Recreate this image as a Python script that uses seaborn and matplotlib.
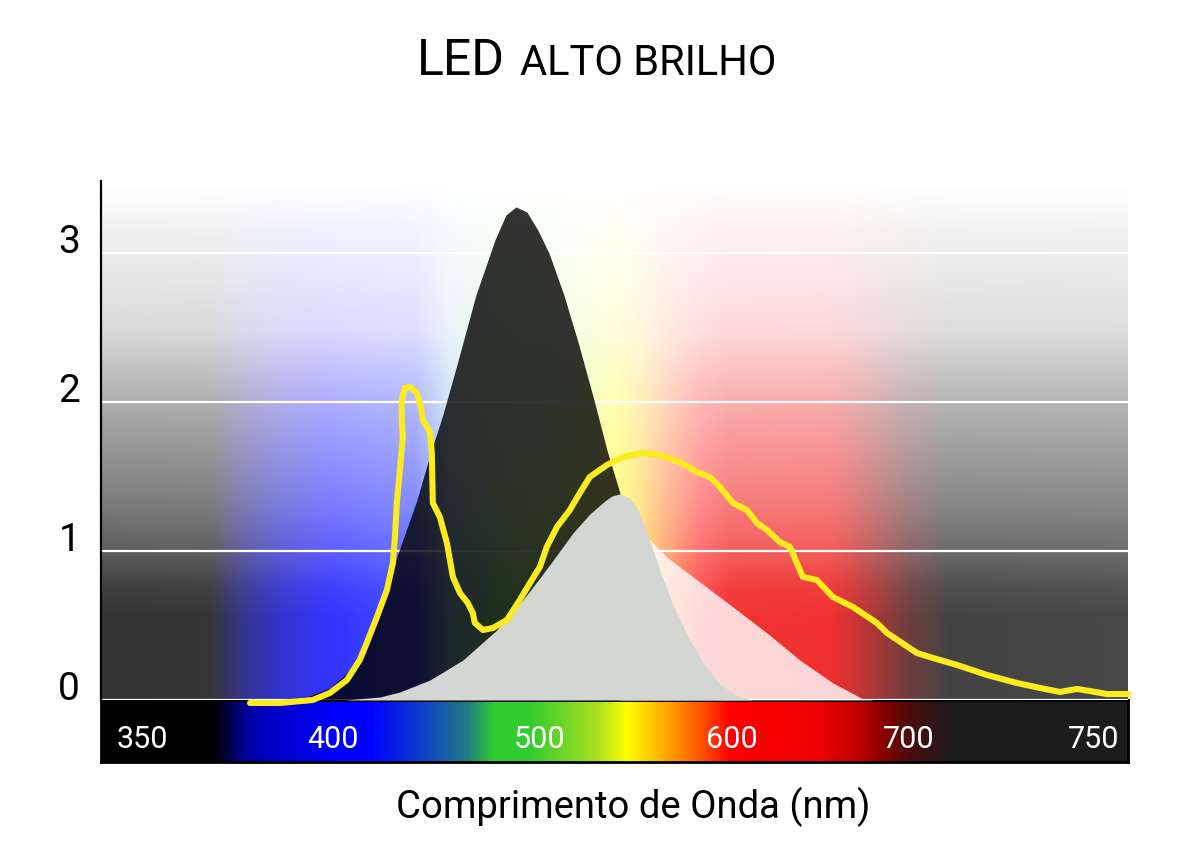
import numpy as np
import matplotlib
matplotlib.use("Agg")
import matplotlib.pyplot as plt
from matplotlib.colors import to_rgb
from matplotlib.transforms import blended_transform_factory
import seaborn as sns

# labels printed on the spectrum strip
band_labels = ["350", "400", "500", "600", "700", "750"]
band_nm = [350, 400, 500, 600, 700, 750]
# the printed wavelength scale is not linear: relative spacing of the marks
scale_nm = [330, 350, 400, 500, 600, 700, 750, 770]
scale_pos = [67, 143, 333, 540, 732, 909, 1094, 1168]

# LED spectrum (yellow line)
led_nm = [378.2, 386.1, 394.7, 399.2, 406.8, 413.0, 416.4, 421.3, 426.1, 429.0,
          430.0, 430.9, 432.4, 433.8, 433.3, 433.3, 434.8, 437.2, 440.6, 442.5,
          443.5, 446.9, 447.8, 448.3, 451.7, 455.1, 458.0, 461.4, 465.2, 467.6,
          468.6, 472.5, 477.3, 484.1, 490.3, 495.2, 500.0, 503.6, 508.9, 515.6,
          520.8, 526.0, 534.9, 543.2, 553.6, 562.5, 572.9, 581.8, 588.5, 593.8,
          600.6, 608.5, 614.1, 619.8, 627.1, 632.8, 636.7, 640.1, 648.0, 657.1,
          668.4, 681.9, 687.6, 702.2, 706.5, 713.0, 721.1, 729.2, 735.4, 740.8,
          745.4, 748.9, 753.5, 759.2]
led_val = [-0.02, -0.02, 0.0, 0.047, 0.134, 0.268, 0.383, 0.557, 0.738, 0.919,
           1.094, 1.322, 1.544, 1.765, 1.879, 2.013, 2.094, 2.101, 2.060, 1.966,
           1.879, 1.799, 1.658, 1.322, 1.228, 1.054, 0.826, 0.718, 0.651, 0.584,
           0.517, 0.470, 0.483, 0.537, 0.671, 0.785, 0.893, 1.027, 1.161, 1.275,
           1.389, 1.497, 1.577, 1.631, 1.658, 1.644, 1.597, 1.530, 1.497, 1.430,
           1.322, 1.275, 1.188, 1.141, 1.060, 1.027, 0.919, 0.826, 0.805, 0.691,
           0.624, 0.517, 0.450, 0.315, 0.282, 0.235, 0.168, 0.114, 0.081, 0.054,
           0.074, 0.060, 0.040, 0.040]

# scotopic curve (dark)
scot_nm = [387.4, 393.9, 399.2, 405.8, 411.6, 419.3, 427.5, 433.8, 440.6, 446.9,
           453.1, 459.9, 469.1, 478.3, 483.6, 488.4, 493.7, 499.0, 504.7, 512.5,
           520.3, 528.6, 534.9, 541.7, 547.9, 554.7, 566.1, 583.3, 600.6, 619.8,
           638.4, 657.1, 674.0, 680.8]
scot_val = [0, 0.027, 0.081, 0.168, 0.268, 0.523, 0.826, 1.074, 1.342, 1.644,
            1.913, 2.248, 2.718, 3.087, 3.255, 3.309, 3.275, 3.154, 3.0, 2.718,
            2.383, 1.993, 1.678, 1.389, 1.242, 1.107, 0.960, 0.792, 0.624, 0.450,
            0.268, 0.114, 0.007, 0]

# photopic curve (light)
phot_nm = [405.8, 422.7, 432.4, 446.9, 462.8, 479.2, 491.8, 500.0, 508.9, 517.2,
           526.0, 533.9, 537.5, 541.7, 546.9, 551.0, 554.7, 558.3, 562.5, 569.3,
           578.1, 585.9, 593.8, 602.8, 611.3]
phot_val = [0, 0.020, 0.054, 0.134, 0.268, 0.470, 0.671, 0.819, 0.973, 1.121,
            1.248, 1.336, 1.369, 1.383, 1.356, 1.275, 1.161, 1.027, 0.872, 0.638,
            0.403, 0.235, 0.107, 0.027, 0]

# spectrum strip colours
strip_nm = [339, 368.4, 377.6, 382.1, 401.4, 418.4, 443.5, 465.7, 478.0, 494.5,
            530.7, 545.3, 567.7, 584.9, 599.0, 649.7, 672.3, 687.6, 703.0, 711.9, 760]
strip_hex = ["#000000", "#000000", "#0000a0", "#0000c0", "#0000ff", "#0000ff",
             "#1040c8", "#208080", "#30cc30", "#30cc30", "#b0e020", "#ffff00",
             "#ffa000", "#ff5000", "#ff0000", "#ee0000", "#c00000", "#800000",
             "#401010", "#1c1c1c", "#1c1c1c"]

# backdrop: grey ramp by height, coloured glow by wavelength
gray_at = [0, 0.54, 0.76, 1.0, 1.3, 2.0, 2.47, 2.8, 3.13, 3.35, 3.48]
gray_lvl = [0.2, 0.2, 0.25, 0.37, 0.48, 0.68, 0.85, 0.9, 0.94, 0.98, 1.0]
glow_nm = [339, 367.6, 375.5, 386.1, 399.2, 655.4, 666.7, 683.6, 703.0, 711.1, 760]
glow_amt = [0, 0, 0.4, 0.75, 1, 1, 0.85, 0.55, 0.2, 0, 0]
hue_nm = [339, 399, 439.6, 456.5, 480.7, 510.4, 539.1, 552.1, 565.1, 583.3, 598.9, 666.7, 760]
hue_hex = ["#3333ff", "#3333ff", "#404dff", "#8cbfe6", "#99f28c", "#ccfa80", "#ffff40",
           "#ffd94d", "#ff9959", "#ff4d4d", "#f23333", "#f03030", "#f03030"]

XMIN, XMAX, YMAX = 339, 759.2, 3.483


def fwd(x):
    return np.interp(x, scale_nm, scale_pos)


def inv(p):
    return np.interp(p, scale_pos, scale_nm)


def colour_ramp(x, stops, hexes):
    rgb = np.array([to_rgb(h) for h in hexes])
    return np.stack([np.interp(x, stops, rgb[:, k]) for k in range(3)], axis=-1)


def main():
    sns.set_theme(style="white")
    plt.rcParams["font.family"] = ["Roboto", "DejaVu Sans"]
    plt.rcParams["text.color"] = "black"
    plt.rcParams["ytick.color"] = "black"

    fig = plt.figure(figsize=(12, 8.6), dpi=100)
    ax = fig.add_axes([101 / 1200, 160 / 860, 1027 / 1200, 519 / 860])
    cax = fig.add_axes([101 / 1200, 98 / 860, 1027 / 1200, 62 / 860])
    ax.set_zorder(3)
    ax.patch.set_visible(False)

    for a in (ax, cax):
        a.set_xscale("function", functions=(fwd, inv))
        a.set_xlim(XMIN, XMAX)
    ax.set_ylim(0, YMAX)
    cax.set_ylim(0, 1)

    # backdrop image
    W, H = 900, 450
    col_nm = inv(np.linspace(fwd(XMIN), fwd(XMAX), W))
    row_v = np.linspace(YMAX, 0, H)
    g = np.interp(row_v, gray_at, gray_lvl)[:, None]
    xf = np.linspace(0, 1, W)[None, :]
    base = g + 0.1 * xf * (1 - g)
    w = np.clip((g - 0.2) / 0.8, 0, 1)[..., None]
    hue = colour_ramp(col_nm, hue_nm, hue_hex)[None, :, :]
    tint = hue + (1 - hue) * w
    s = np.interp(col_nm, glow_nm, glow_amt)[None, :, None]
    img = (1 - s) * base[..., None] + s * tint
    ax.imshow(np.clip(img, 0, 1), extent=(0, 1, 0, 1), transform=ax.transAxes,
              aspect="auto", zorder=0, interpolation="bilinear")

    ax.set_axisbelow(True)
    ax.set_yticks([0, 1, 2, 3])
    ax.grid(axis="y", color="white", lw=1.6)
    ax.grid(axis="x", visible=False)

    # scotopic fill: dark left of the photopic peak, pale on the right
    split = phot_nm[int(np.argmax(phot_val))]
    sn, sv = np.array(scot_nm), np.array(scot_val)
    left = sn <= split
    right = sn >= split
    ax.fill_between(sn[left], sv[left], 0, color="black", alpha=0.8, lw=0, zorder=2)
    ax.fill_between(sn[right], sv[right], 0, color="white", alpha=0.8, lw=0, zorder=2)
    ax.fill_between(phot_nm, phot_val, 0, color="#d3d6d2", alpha=1.0, lw=0, zorder=3)

    sns.lineplot(x=led_nm, y=led_val, sort=False, estimator=None, ax=ax,
                 color="#fceb1e", lw=4.4, zorder=6, clip_on=False,
                 solid_capstyle="round", solid_joinstyle="round")

    ax.set_yticklabels(["0", "1", "2", "3"], fontsize=28, va="baseline", color="black")
    ax.tick_params(axis="y", length=0, pad=15)
    ax.set_xticks([])
    ax.set_xlabel("")
    ax.set_ylabel("")
    for side in ("top", "right", "bottom"):
        ax.spines[side].set_visible(False)
    ax.spines["left"].set_color("black")
    ax.spines["left"].set_linewidth(1.6)

    # spectrum strip
    strip = colour_ramp(col_nm, strip_nm, strip_hex)[None, :, :]
    cax.imshow(strip, extent=(0, 1, 0, 1), transform=cax.transAxes,
               aspect="auto", interpolation="bilinear")
    cax.set_xticks([])
    cax.set_yticks([])
    for sp in cax.spines.values():
        sp.set_visible(True)
        sp.set_color("black")
        sp.set_linewidth(2)
    tr = blended_transform_factory(cax.transData, cax.transAxes)
    for nm, lab in zip(band_nm, band_labels):
        cax.text(nm, 0.226, lab, transform=tr, ha="center", va="baseline",
                 color="white", fontsize=22)

    fig.text(505 / 1200, 785 / 860, "LED", ha="right", va="baseline",
             fontsize=36, color="black")
    fig.text(520 / 1200, 785 / 860, "ALTO BRILHO", ha="left", va="baseline",
             fontsize=30, color="black")
    fig.text(633 / 1200, 42 / 860, "Comprimento de Onda (nm)", ha="center",
             va="baseline", fontsize=27.5, color="black")

    fig.savefig("out.png", dpi=100)


if __name__ == "__main__":
    main()
